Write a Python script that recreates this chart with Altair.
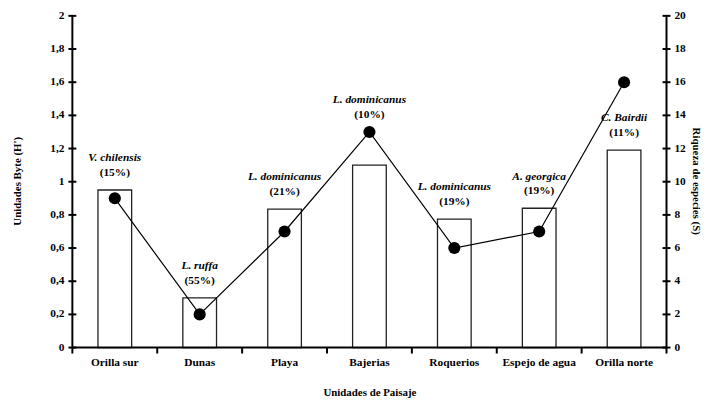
import altair as alt
import pandas as pd

categories = ["Orilla sur", "Dunas", "Playa", "Bajerias", "Roquerios", "Espejo de agua", "Orilla norte"]
diversity_h = [0.95, 0.30, 0.835, 1.10, 0.775, 0.84, 1.19]
richness_s = [9, 2, 7, 13, 6, 7, 16]
dominant_species = ["V. chilensis", "L. ruffa", "L. dominicanus", "L. dominicanus",
                    "L. dominicanus", "A. georgica", "C. Bairdii"]
dominance_pct = ["(15%)", "(55%)", "(21%)", "(10%)", "(19%)", "(19%)", "(11%)"]
label_above_point = [False, False, False, True, False, False, False]

left_ticks = [0, 0.2, 0.4, 0.6, 0.8, 1.0, 1.2, 1.4, 1.6, 1.8, 2.0]
left_tick_labels = ["0", "0,2", "0,4", "0,6", "0,8", "1", "1,2", "1,4", "1,6", "1,8", "2"]
right_ticks = [0, 2, 4, 6, 8, 10, 12, 14, 16, 18, 20]
right_tick_labels = ["0", "2", "4", "6", "8", "10", "12", "14", "16", "18", "20"]

anchor = [r / 10 if above else h for h, r, above in zip(diversity_h, richness_s, label_above_point)]

df = pd.DataFrame({"cat": categories, "H": diversity_h, "S": richness_s,
                   "sp": dominant_species, "pct": dominance_pct, "anchor": anchor})
lt = pd.DataFrame({"v": left_ticks, "lab": left_tick_labels})
rt = pd.DataFrame({"v": right_ticks, "lab": right_tick_labels})
one = pd.DataFrame({"d": [0]})

W, H = 600, 335
FONT = "Liberation Serif"
LW = 2  # line thickness for axes and ticks
left_scale = alt.Scale(domain=[0, 2])
right_scale = alt.Scale(domain=[0, 20])

x_axis = alt.Axis(labelAngle=0, ticks=False, tickSize=0, domain=False, grid=False,
                  labelPadding=9, titlePadding=19, labelOverlap=False,
                  labelFont=FONT, titleFont=FONT, labelFontWeight="bold", titleFontWeight="bold",
                  labelFontSize=11.5, titleFontSize=11, labelColor="black", titleColor="black",
                  title="Unidades de Paisaje")
x_scale = alt.Scale(paddingInner=0, paddingOuter=0)

bars = alt.Chart(df).mark_bar(fill="white", stroke="#222", strokeWidth=1.3, size=34).encode(
    x=alt.X("cat:N", sort=categories, scale=x_scale, axis=x_axis),
    y=alt.Y("H:Q", scale=left_scale, axis=None),
)
sp_text = alt.Chart(df).mark_text(font=FONT, fontStyle="italic", fontWeight="bold",
                                  fontSize=11.5, dy=-32, baseline="middle").encode(
    x=alt.X("cat:N", sort=categories), y=alt.Y("anchor:Q", axis=None), text="sp:N")
pct_text = alt.Chart(df).mark_text(font=FONT, fontWeight="bold",
                                   fontSize=11.5, dy=-17, baseline="middle").encode(
    x=alt.X("cat:N", sort=categories), y=alt.Y("anchor:Q", axis=None), text="pct:N")

l_ticks = alt.Chart(lt).mark_tick(color="black", size=8, thickness=LW, opacity=1,
                                  orient="horizontal").encode(
    x=alt.value(0), y=alt.Y("v:Q", axis=None))
l_labels = alt.Chart(lt).mark_text(font=FONT, fontWeight="bold", fontSize=11.5,
                                   align="right", baseline="middle").encode(
    x=alt.value(-8), y=alt.Y("v:Q", axis=None), text="lab:N")

left_layer = alt.layer(bars, sp_text, pct_text, l_ticks, l_labels)

line = alt.Chart(df).mark_line(color="black", strokeWidth=1.2).encode(
    x=alt.X("cat:N", sort=categories),
    y=alt.Y("S:Q", scale=right_scale, axis=None))
pts = alt.Chart(df).mark_point(filled=True, color="black", size=150, opacity=1).encode(
    x=alt.X("cat:N", sort=categories), y=alt.Y("S:Q", axis=None))
r_ticks = alt.Chart(rt).mark_tick(color="black", size=8, thickness=LW, opacity=1,
                                  orient="horizontal").encode(
    x=alt.value(W), y=alt.Y("v:Q", axis=None))
r_labels = alt.Chart(rt).mark_text(font=FONT, fontWeight="bold", fontSize=11.5,
                                   align="left", baseline="middle").encode(
    x=alt.value(W + 8), y=alt.Y("v:Q", axis=None), text="lab:N")
right_layer = alt.layer(line, pts, r_ticks, r_labels)

# axis lines (filled rects), band-boundary ticks and y-axis titles
x_ticks = alt.Chart(df).mark_tick(color="black", size=6, thickness=LW, opacity=1,
                                  orient="vertical").encode(
    x=alt.X("cat:N", sort=categories, bandPosition=0), y=alt.value(H + 3))
x_end_tick = alt.Chart(one).mark_rect(color="black").encode(
    x=alt.value(W - 1), x2=alt.value(W + 1), y=alt.value(H), y2=alt.value(H + 6))
x_line = alt.Chart(one).mark_rect(color="black").encode(
    x=alt.value(0), x2=alt.value(W), y=alt.value(H - 1), y2=alt.value(H + 1))
l_line = alt.Chart(one).mark_rect(color="black").encode(
    x=alt.value(-1), x2=alt.value(1), y=alt.value(0), y2=alt.value(H))
r_line = alt.Chart(one).mark_rect(color="black").encode(
    x=alt.value(W - 1), x2=alt.value(W + 1), y=alt.value(0), y2=alt.value(H))
l_title = alt.Chart(one).mark_text(font=FONT, fontWeight="bold", fontSize=11, angle=270,
                                   baseline="middle").encode(
    x=alt.value(-55), y=alt.value(167), text=alt.value("Unidades Byte (H')"))
r_title = alt.Chart(one).mark_text(font=FONT, fontWeight="bold", fontSize=11, angle=90,
                                   baseline="middle").encode(
    x=alt.value(W + 30), y=alt.value(167), text=alt.value("Riqueza de especies (S)"))
frame = alt.layer(x_ticks, x_end_tick, x_line, l_line, r_line, l_title, r_title)

chart = alt.layer(left_layer, right_layer, frame).resolve_scale(y="independent").properties(
    width=W, height=H,
    autosize=alt.AutoSizeParams(type="none"),
    padding={"left": 65, "top": 6, "right": 52, "bottom": 50},
).configure_view(stroke=None)

chart.save("out.html", embed_options={"renderer": "svg", "actions": False})
